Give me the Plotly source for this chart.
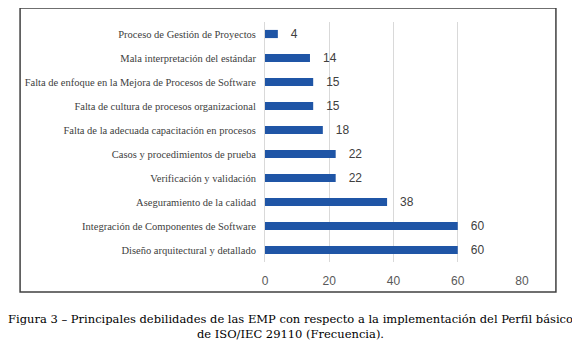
import plotly.graph_objects as go

categories = [
    "Proceso de Gestión de Proyectos",
    "Mala interpretación del estándar",
    "Falta de enfoque en la Mejora de Procesos de Software",
    "Falta de cultura de procesos organizacional",
    "Falta de la adecuada capacitación en procesos",
    "Casos y procedimientos de prueba",
    "Verificación y validación",
    "Aseguramiento de la calidad",
    "Integración de Componentes de Software",
    "Diseño arquitectural y detallado",
]
values = [4, 14, 15, 15, 18, 22, 22, 38, 60, 60]
x_ticks = [0, 20, 40, 60, 80]
caption = ("Figura 3 – Principales debilidades de las EMP con respecto a la implementación del Perfil básico<br>"
           "de ISO/IEC 29110 (Frecuencia).")

SERIF = "Liberation Serif"
CAPTION_FONT = "DejaVu Serif"
SANS = "Liberation Sans"

fig = go.Figure(go.Bar(
    y=categories, x=values, orientation="h",
    marker=dict(color="#1f55a6", line=dict(width=0)),
    text=[str(v) for v in values],
    texttemplate="   %{text}",
    textposition="outside",
    constraintext="none",
    textfont=dict(family=SANS, size=12, color="#404040"),
    cliponaxis=False,
))

fig.update_layout(
    width=580, height=358,
    margin=dict(l=257, r=66, t=14, b=104),
    paper_bgcolor="white", plot_bgcolor="white",
    bargap=0.66,
    showlegend=False,
    xaxis=dict(range=[0, 80], tickvals=x_ticks, showgrid=True, gridcolor="#d9d9d9", gridwidth=1,
               zeroline=False, showline=False,
               tickfont=dict(family=SANS, size=12, color="#595959"),
               ticklabelstandoff=10),
    yaxis=dict(autorange="reversed", showline=True, linecolor="#d9d9d9", linewidth=1,
               showgrid=False, ticks="",
               tickfont=dict(family=SERIF, size=10.5, color="#404040"),
               ticklabelstandoff=6),
    shapes=[dict(type="rect", xref="paper", yref="paper",
                 x0=-0.953, x1=1.132, y0=-0.125, y1=1.058,
                 line=dict(color="#404040", width=1.5), fillcolor="rgba(0,0,0,0)", layer="below")],
    annotations=[dict(text=caption, xref="paper", yref="paper", x=0.0973, y=-0.267,
                      xanchor="center", yanchor="middle", showarrow=False, align="center",
                      font=dict(family=CAPTION_FONT, size=11.5, color="#000000"))],
)

fig.write_html("out.html")
